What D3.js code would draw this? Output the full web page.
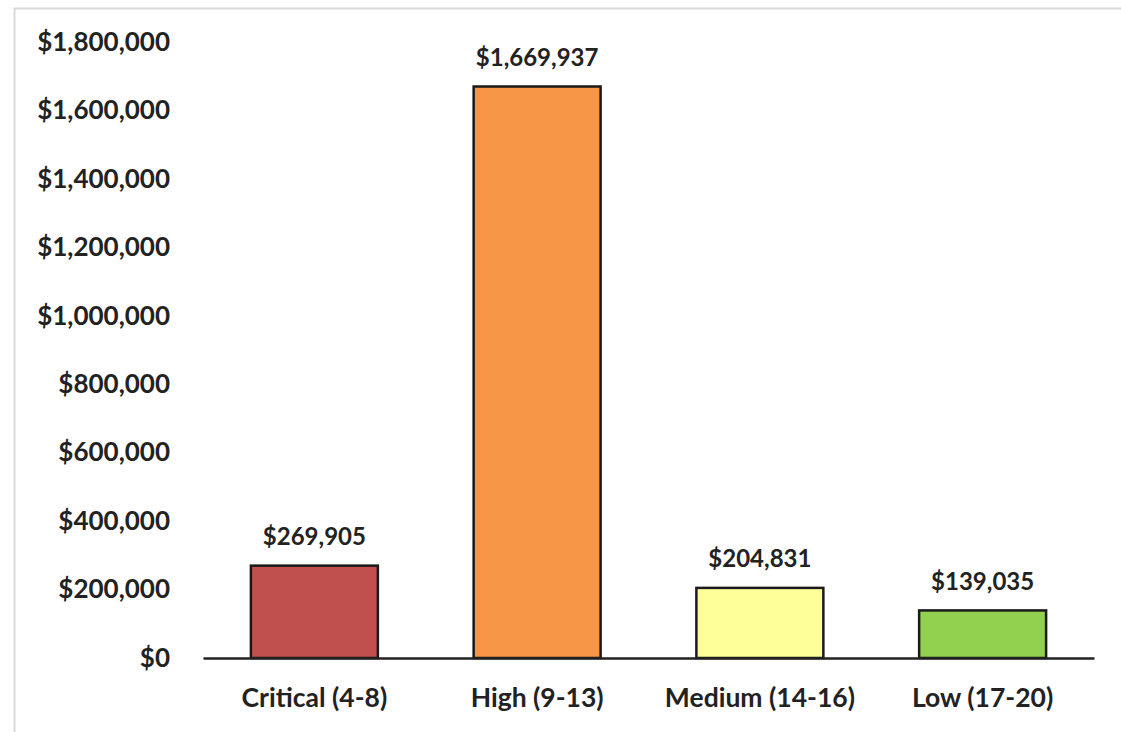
<!DOCTYPE html>
<html><head><meta charset="utf-8">
<script src="https://cdn.jsdelivr.net/npm/d3@7"></script>
<style>body{margin:0;background:#fff}</style>
</head><body><svg id="c" width="1121" height="732"></svg>
<script>
const categories = ["Critical (4-8)", "High (9-13)", "Medium (14-16)", "Low (17-20)"];
const values = [269905, 1669937, 204831, 139035];
const colors = ["#C0504D", "#F79646", "#FFFF99", "#92D050"];
const tickValues = [0, 200000, 400000, 600000, 800000, 1000000, 1200000, 1400000, 1600000, 1800000];

const svg = d3.select("#c");
const font = "Lato, 'Open Sans', sans-serif";
// frame
svg.append("rect").attr("x", 14.5).attr("y", 8.5).attr("width", 1200).attr("height", 800)
  .attr("fill", "#fff").attr("stroke", "#d9d9d9").attr("stroke-width", 2);

const m = {left: 203, right: 1094, top: 42, bottom: 658};
const x = d3.scaleBand().domain(categories).range([m.left, m.right]).paddingInner(0.43).paddingOuter(0.215);
const y = d3.scaleLinear().domain([0, 1800000]).range([m.bottom, m.top]);
const fmt = d3.format("$,");

const yAxis = svg.append("g").attr("transform", `translate(${m.left},0)`)
  .call(d3.axisLeft(y).tickValues(tickValues).tickFormat(fmt).tickSize(0).tickPadding(33));
yAxis.select(".domain").remove();
yAxis.selectAll("text").attr("font-family", font).attr("font-weight", "bold")
  .attr("font-size", 26).attr("fill", "#222");

svg.selectAll("rect.bar").data(values).join("rect").attr("class", "bar")
  .attr("x", (d, i) => x(categories[i])).attr("width", x.bandwidth())
  .attr("y", d => y(d)).attr("height", d => y(0) - y(d))
  .attr("fill", (d, i) => colors[i]).attr("stroke", "#1a1a1a").attr("stroke-width", 2.5);

const xAxis = svg.append("g").attr("transform", `translate(0,${m.bottom})`)
  .call(d3.axisBottom(x).tickSize(0).tickPadding(30));
xAxis.select(".domain").attr("stroke", "#222").attr("stroke-width", 2.5);
xAxis.selectAll("text").attr("font-family", font).attr("font-weight", "bold")
  .attr("font-size", 26.5).attr("fill", "#222");

svg.selectAll("text.val").data(values).join("text").attr("class", "val")
  .attr("x", (d, i) => x(categories[i]) + x.bandwidth() / 2)
  .attr("y", d => y(d) - 29).attr("dy", "0.35em").attr("text-anchor", "middle")
  .attr("font-family", font).attr("font-weight", "bold").attr("font-size", 24).attr("fill", "#222")
  .text(d => fmt(d));
</script></body></html>
